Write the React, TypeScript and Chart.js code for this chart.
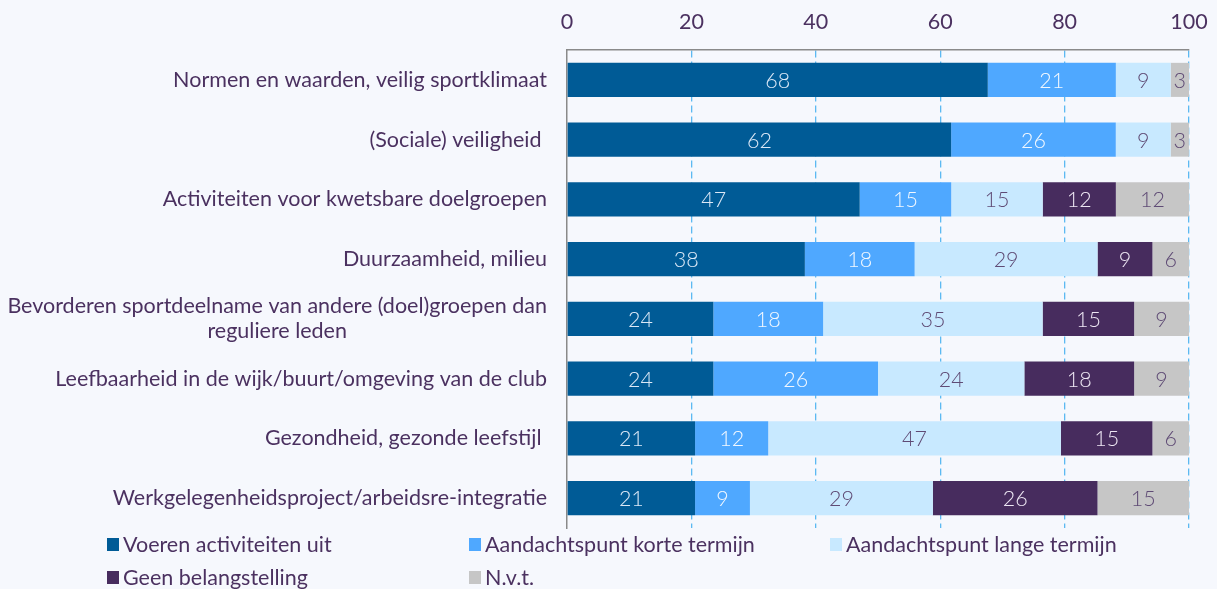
import React, { useEffect, useRef } from "react";
import { Chart, registerables } from "chart.js";
Chart.register(...registerables);

const categories: (string | string[])[] = [
  "Normen en waarden, veilig sportklimaat",
  "(Sociale) veiligheid ",
  "Activiteiten voor kwetsbare doelgroepen",
  "Duurzaamheid, milieu",
  ["Bevorderen sportdeelname van andere (doel)groepen dan", "reguliere leden"],
  "Leefbaarheid in de wijk/buurt/omgeving van de club",
  "Gezondheid, gezonde leefstijl ",
  "Werkgelegenheidsproject/arbeidsre-integratie",
];

const seriesNames = [
  "Voeren activiteiten uit",
  "Aandachtspunt korte termijn",
  "Aandachtspunt lange termijn",
  "Geen belangstelling",
  "N.v.t.",
];

const voeren = [67.65, 61.76, 47.06, 38.24, 23.53, 23.53, 20.59, 20.59];
const korte = [20.59, 26.47, 14.71, 17.65, 17.65, 26.47, 11.76, 8.82];
const lange = [8.82, 8.82, 14.71, 29.41, 35.29, 23.53, 47.06, 29.41];
const geen = [null, null, 11.76, 8.82, 14.71, 17.65, 14.71, 26.47];
const nvt = [2.94, 2.94, 11.76, 5.88, 8.82, 8.82, 5.88, 14.71];

const xTicks = [0, 20, 40, 60, 80, 100];

const colors = ["#005B96", "#4FA8FF", "#C8E9FF", "#472C5E", "#C6C6C6"];
const labelColors = ["#DCE9F7", "#F2F8FF", "#5F4B75", "#EDE6F3", "#5F4B75"];
const textColor = "#4B3160";
const bgColor = "#F6F8FD";
const FONT = "Lato, 'Open Sans', sans-serif";
const FS = 21.5;

export default function App() {
  const ref = useRef<HTMLCanvasElement | null>(null);

  useEffect(() => {
    document.body.style.margin = "0";
    document.body.style.background = bgColor;
    const canvas = ref.current!;
    const seriesData = [voeren, korte, lange, geen, nvt];

    const yLabelPlugin = {
      id: "yLabels",
      afterDraw(chart: any) {
        const ctx = chart.ctx;
        const yScale = chart.scales.y;
        const right = chart.chartArea.left - 20;
        ctx.save();
        ctx.font = `${FS}px ${FONT}`;
        ctx.fillStyle = textColor;
        ctx.textBaseline = "middle";
        categories.forEach((lab, i) => {
          const y = yScale.getPixelForValue(i);
          if (Array.isArray(lab)) {
            const widths = lab.map((l) => ctx.measureText(l).width);
            const maxW = Math.max(...widths);
            const cx = right - maxW / 2;
            const lh = 25;
            ctx.textAlign = "center";
            lab.forEach((l, j) => {
              ctx.fillText(l, cx, y + (j - (lab.length - 1) / 2) * lh);
            });
          } else {
            ctx.textAlign = "right";
            ctx.fillText(lab, right, y);
          }
        });
        ctx.restore();
      },
    };

    const dataLabelPlugin = {
      id: "dataLabels",
      afterDatasetsDraw(chart: any) {
        const ctx = chart.ctx;
        ctx.save();
        ctx.font = `300 ${FS}px ${FONT}`;
        ctx.textAlign = "center";
        ctx.textBaseline = "middle";
        chart.data.datasets.forEach((ds: any, di: number) => {
          const meta = chart.getDatasetMeta(di);
          meta.data.forEach((el: any, i: number) => {
            const v = ds.data[i];
            if (v === null || v === undefined) return;
            const p = el.getProps(["x", "y", "base"], true);
            ctx.fillStyle = labelColors[di];
            ctx.fillText(String(Math.round(v)), (p.x + p.base) / 2, p.y + 1);
          });
        });
        ctx.restore();
      },
    };

    const legendPlugin = {
      id: "customLegend",
      afterDraw(chart: any) {
        const ctx = chart.ctx;
        const cols = [107, 469, 830];
        const rows = [544, 577];
        ctx.save();
        ctx.font = `${FS}px ${FONT}`;
        ctx.textBaseline = "middle";
        ctx.textAlign = "left";
        chart.data.datasets.forEach((ds: any, i: number) => {
          const x = cols[i % 3];
          const y = rows[Math.floor(i / 3)];
          ctx.fillStyle = ds.backgroundColor;
          ctx.fillRect(x, y - 6, 12, 13);
          ctx.fillStyle = textColor;
          ctx.fillText(ds.label, x + 16, y + 1);
        });
        ctx.restore();
      },
    };

    const chart = new Chart(canvas, {
      type: "bar",
      data: {
        labels: categories as any,
        datasets: seriesNames.map((name, i) => ({
          label: name,
          data: seriesData[i] as any,
          backgroundColor: colors[i],
          borderWidth: 0,
          barPercentage: 0.57,
          categoryPercentage: 1,
        })),
      },
      options: {
        indexAxis: "y",
        animation: false,
        responsive: false,
        devicePixelRatio: 1,
        layout: { padding: { left: 567, right: 28, top: 12, bottom: 61 } },
        plugins: { legend: { display: false }, tooltip: { enabled: false } },
        scales: {
          x: {
            position: "top",
            stacked: true,
            min: 0,
            max: 100,
            afterBuildTicks: (axis: any) => {
              axis.ticks = xTicks.map((v) => ({ value: v }));
            },
            afterFit: (axis: any) => {
              axis.height = 38;
              axis.paddingLeft = 0;
              axis.paddingRight = 0;
            },
            ticks: {
              color: textColor,
              font: { family: FONT, size: FS },
              padding: 15,
            },
            grid: {
              drawTicks: false,
              color: (c: any) => (c.index === 0 ? "rgba(0,0,0,0)" : "#5CB9F2"),
              lineWidth: 1.3,
            } as any,
            border: { display: true, color: "#8A8A8A", width: 1.5, dash: [7, 4] } as any,
          },
          y: {
            stacked: true,
            ticks: { display: false },
            grid: { display: false, drawTicks: false },
            border: { display: true, color: "#8A8A8A", width: 1.5 },
          },
        },
      },
      plugins: [yLabelPlugin, dataLabelPlugin, legendPlugin],
    });
    return () => chart.destroy();
  }, []);

  return (
    <div style={{ width: 1217, height: 589, background: bgColor }}>
      <canvas ref={ref} width={1217} height={589} style={{ display: "block" }} />
    </div>
  );
}
